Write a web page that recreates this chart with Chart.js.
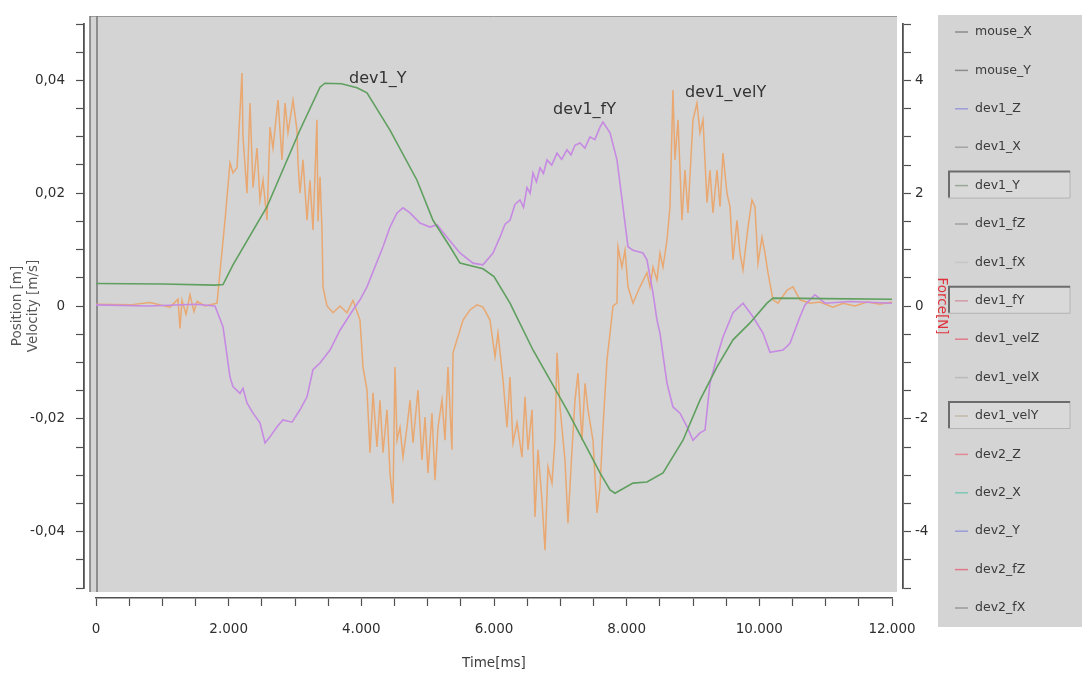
<!DOCTYPE html>
<html>
<head>
<meta charset="utf-8">
<title>dev1 recording</title>
<script src="https://cdn.jsdelivr.net/npm/chart.js@4.4.1/dist/chart.umd.min.js"></script>
<style>
  html, body { margin: 0; padding: 0; background: #fff; }
  canvas { display: block; }
</style>
</head>
<body>
<canvas id="recordingChart" width="1082" height="673"></canvas>
<script>
// Series names in legend order; only three of them carry data
const seriesNames = ['mouse_X', 'mouse_Y', 'dev1_Z', 'dev1_X', 'dev1_Y', 'dev1_fZ', 'dev1_fX', 'dev1_fY',
    'dev1_velZ', 'dev1_velX', 'dev1_velY', 'dev2_Z', 'dev2_X', 'dev2_Y', 'dev2_fZ', 'dev2_fX'];

// Axis ticks and labels
const timeTicks = [0, 2000, 4000, 6000, 8000, 10000, 12000];
const timeTickLabels = ['0', '2.000', '4.000', '6.000', '8.000', '10.000', '12.000'];
const posTicks = [-0.04, -0.02, 0, 0.02, 0.04];
const posTickLabels = ['-0,04', '-0,02', '0', '0,02', '0,04'];
const forceTicks = [-4, -2, 0, 2, 4];
const forceTickLabels = ['-4', '-2', '0', '2', '4'];

// dev1_Y position [m]
const posTime = [0, 1000, 1800, 1915, 2065, 2578, 3075, 3377, 3450, 3700,
    3935, 4085, 4432, 4839, 5080, 5337, 5487, 5834, 6000, 6241,
    6588, 7100, 7598, 7749, 7824, 8095, 8306, 8548, 8849, 9105,
    9362, 9603, 9859, 10115, 10206, 11000, 12000];
const dev1Y = [0.0040, 0.0039, 0.0037, 0.0038, 0.0073, 0.0176, 0.0312, 0.0388, 0.0395, 0.0394,
    0.0387, 0.0378, 0.0312, 0.0223, 0.0152, 0.0105, 0.0076, 0.0066, 0.0052, 0.0005,
    -0.0078, -0.0184, -0.0296, -0.0326, -0.0332, -0.0314, -0.0312, -0.0296, -0.0238, -0.0167,
    -0.0108, -0.0060, -0.0030, 0.0005, 0.0014, 0.0013, 0.0012];

// dev1_fY force [N]
const forceTime = [0, 800, 1500, 1794, 1915, 2020, 2065, 2171, 2216, 2276,
    2367, 2472, 2548, 2623, 2729, 2819, 2955, 3075, 3181, 3271,
    3377, 3528, 3678, 3874, 3980, 4085, 4327, 4432, 4538, 4628,
    4734, 4884, 5035, 5141, 5291, 5487, 5683, 5834, 5985, 6090,
    6166, 6241, 6316, 6392, 6445, 6497, 6545, 6588, 6640, 6693,
    6745, 6799, 6870, 6950, 7020, 7100, 7160, 7221, 7296, 7370,
    7447, 7520, 7598, 7643, 7749, 7854, 7944, 8020, 8095, 8246,
    8306, 8397, 8457, 8502, 8608, 8698, 8804, 8909, 9000, 9105,
    9181, 9256, 9362, 9452, 9603, 9754, 9904, 10055, 10161, 10357,
    10462, 10613, 10688, 10839, 10990, 11367, 12000];
const dev1fY = [0.02, 0.0, 0.03, 0.0, -0.37, -1.26, -1.43, -1.55, -1.46, -1.72,
    -1.90, -2.07, -2.43, -2.32, -2.14, -2.02, -2.06, -1.84, -1.61, -1.13,
    -1.01, -0.78, -0.43, -0.07, 0.11, 0.34, 1.05, 1.40, 1.65, 1.74,
    1.65, 1.47, 1.40, 1.44, 1.22, 0.94, 0.76, 0.73, 0.94, 1.22,
    1.45, 1.52, 1.80, 1.88, 1.75, 2.10, 2.00, 2.36, 2.20, 2.45,
    2.35, 2.59, 2.50, 2.71, 2.60, 2.77, 2.68, 2.85, 2.89, 2.80,
    3.00, 2.95, 3.17, 3.26, 3.07, 2.59, 1.76, 1.05, 0.99, 0.94,
    0.82, 0.23, -0.25, -0.48, -1.37, -1.79, -1.90, -2.14, -2.38, -2.25,
    -2.20, -1.37, -0.90, -0.55, -0.12, 0.05, -0.19, -0.48, -0.82, -0.78,
    -0.66, -0.19, 0.02, 0.20, 0.05, 0.08, 0.05];

// dev1_velY velocity [m/s]
const velTime = [0, 513, 814, 1116, 1236, 1266, 1296, 1357, 1417, 1477,
    1523, 1643, 1824, 1945, 2020, 2065, 2126, 2201, 2216, 2276,
    2322, 2367, 2427, 2472, 2518, 2578, 2623, 2668, 2744, 2804,
    2849, 2894, 2970, 3030, 3045, 3075, 3121, 3181, 3226, 3271,
    3331, 3347, 3377, 3407, 3422, 3482, 3573, 3678, 3784, 3874,
    3980, 4025, 4085, 4131, 4176, 4236, 4281, 4327, 4387, 4432,
    4477, 4507, 4538, 4583, 4628, 4688, 4734, 4779, 4854, 4914,
    4960, 5005, 5065, 5110, 5156, 5216, 5261, 5306, 5366, 5382,
    5442, 5533, 5638, 5744, 5834, 5940, 6015, 6060, 6136, 6196,
    6241, 6286, 6347, 6422, 6467, 6512, 6573, 6618, 6663, 6723,
    6769, 6814, 6874, 6919, 6950, 6995, 7070, 7115, 7176, 7221,
    7266, 7326, 7372, 7417, 7492, 7553, 7598, 7643, 7703, 7749,
    7794, 7854, 7869, 7929, 7975, 8020, 8095, 8201, 8306, 8352,
    8397, 8457, 8502, 8548, 8608, 8653, 8698, 8728, 8774, 8834,
    8879, 8924, 9000, 9060, 9105, 9151, 9211, 9256, 9301, 9362,
    9407, 9452, 9512, 9558, 9603, 9663, 9708, 9754, 9829, 9889,
    9934, 9980, 10040, 10085, 10130, 10206, 10281, 10417, 10507, 10613,
    10764, 10914, 11110, 11261, 11442, 11623, 11819, 12000];
const dev1VelY = [0.0003, 0.0002, 0.0006, -0.0002, 0.0012, -0.0040, 0.0010, -0.0015, 0.0020, -0.0010,
    0.0008, 0.0000, 0.0005, 0.0152, 0.0254, 0.0236, 0.0245, 0.0413, 0.0300, 0.0200,
    0.0360, 0.0210, 0.0280, 0.0188, 0.0223, 0.0152, 0.0317, 0.0280, 0.0365, 0.0259,
    0.0360, 0.0307, 0.0365, 0.0312, 0.0254, 0.0200, 0.0259, 0.0152, 0.0223, 0.0135,
    0.0330, 0.0150, 0.0229, 0.0135, 0.0034, 0.0000, -0.0012, 0.0000, -0.0012, 0.0010,
    -0.0025, -0.0108, -0.0149, -0.0260, -0.0154, -0.0250, -0.0167, -0.0260, -0.0184, -0.0296,
    -0.0350, -0.0108, -0.0238, -0.0215, -0.0268, -0.0215, -0.0167, -0.0243, -0.0149, -0.0273,
    -0.0197, -0.0296, -0.0190, -0.0309, -0.0215, -0.0167, -0.0238, -0.0108, -0.0255, -0.0083,
    -0.0060, -0.0025, -0.0007, 0.0002, -0.0002, -0.0025, -0.0090, -0.0048, -0.0131, -0.0215,
    -0.0126, -0.0243, -0.0207, -0.0268, -0.0161, -0.0255, -0.0184, -0.0374, -0.0255, -0.0344,
    -0.0433, -0.0285, -0.0314, -0.0238, -0.0083, -0.0179, -0.0273, -0.0385, -0.0255, -0.0167,
    -0.0119, -0.0238, -0.0137, -0.0184, -0.0238, -0.0367, -0.0321, -0.0215, -0.0096, -0.0048,
    0.0000, 0.0005, 0.0105, 0.0069, 0.0099, 0.0034, 0.0005, 0.0034, 0.0059, 0.0034,
    0.0069, 0.0046, 0.0094, 0.0069, 0.0117, 0.0176, 0.0383, 0.0259, 0.0330, 0.0152,
    0.0241, 0.0165, 0.0330, 0.0360, 0.0307, 0.0330, 0.0183, 0.0241, 0.0165, 0.0241,
    0.0176, 0.0271, 0.0200, 0.0176, 0.0082, 0.0152, 0.0094, 0.0064, 0.0140, 0.0188,
    0.0176, 0.0076, 0.0122, 0.0094, 0.0059, 0.0011, 0.0005, 0.0028, 0.0034, 0.0011,
    0.0005, 0.0007, -0.0002, 0.0005, 0.0000, 0.0007, 0.0003, 0.0007];

// Where the curve names sit (time, value on the left axis)
const curveLabels = ['dev1_Y', 'dev1_fY', 'dev1_velY'];
const curveLabelTime = [3814, 6889, 8879];
const curveLabelValue = [0.0403, 0.0347, 0.0378];

const plotGrey = '#d4d4d4';
const axisGrey = '#505050';
const fontFamily = "'DejaVu Sans', sans-serif";
const legendDashColours = ['#8c8c8c', '#8c8c8c', '#9d9bd8', '#a4a4a4', '#9aa89a', '#a0a0a0', '#c6c6c6', '#d49aa8',
    '#e07a8a', '#bababa', '#c2b9a8', '#e08a96', '#7cc8b4', '#9a9ad8', '#e0788a', '#9a9a9a'];

function toPoints(times, values) {
    const n = Math.min(times.length, values.length);
    const pts = [];
    for (let i = 0; i < n; i++) {
        pts.push({x: times[i], y: values[i]});
    }
    return pts;
}

// major ticks plus the unlabelled minor ticks between them (one step past the ends for the y axes)
function tickList(major, step, extra) {
    const ticks = [];
    const lo = Math.round(major[0] / step) - extra;
    const hi = Math.round(major[major.length - 1] / step) + extra;
    for (let k = lo; k <= hi; k++) {
        ticks.push({value: k * step});
    }
    return ticks;
}

function labelFor(value, major, labels) {
    const idx = major.findIndex(m => Math.abs(m - value) < 1e-9);
    return idx >= 0 ? labels[idx] : '';
}

const seriesData = {
    dev1_Y: {points: toPoints(posTime, dev1Y), axis: 'y', colour: '#5f9f5f', width: 1.6},
    dev1_fY: {points: toPoints(forceTime, dev1fY), axis: 'yForce', colour: '#c68ae2', width: 1.6},
    dev1_velY: {points: toPoints(velTime, dev1VelY), axis: 'y', colour: 'rgba(234,164,104,0.92)', width: 1.5},
};

const datasets = seriesNames.map((name) => {
    const s = seriesData[name];
    return {
        label: name,
        data: s ? s.points : [],
        yAxisID: s ? s.axis : 'y',
        borderColor: s ? s.colour : '#999',
        borderWidth: s ? s.width : 1,
        pointRadius: 0,
        tension: 0,
        fill: false,
    };
});

// Axes in the original are set slightly apart from the plot area
const axisGap = {
    id: 'axisGap',
    afterLayout(chart) {
        const {x, y, yForce} = chart.scales;
        x.top += 10;
        x.bottom += 10;
        y.left -= 12;
        y.right -= 12;
        yForce.left += 11;
        yForce.right += 11;
    },
};

const frameAndLegend = {
    id: 'frameAndLegend',
    beforeDraw(chart) {
        const {ctx, chartArea: a, width} = chart;
        ctx.save();
        ctx.fillStyle = '#fff';
        ctx.fillRect(0, 0, chart.width, chart.height);

        // plot background
        ctx.fillStyle = plotGrey;
        ctx.fillRect(a.left - 6, a.top - 8, a.right - a.left + 11, a.bottom - a.top + 12);
        ctx.strokeStyle = '#9a9a9a';
        ctx.lineWidth = 1;
        ctx.beginPath();
        ctx.moveTo(a.left - 6, a.top - 7.5);
        ctx.lineTo(a.right + 5, a.top - 7.5);
        ctx.stroke();
        ctx.strokeStyle = '#777';
        ctx.lineWidth = 1.5;
        [a.left - 6, a.left + 1].forEach((lx) => {
            ctx.beginPath();
            ctx.moveTo(lx, a.top - 8);
            ctx.lineTo(lx, a.bottom + 4);
            ctx.stroke();
        });

        // legend panel
        const px = width - 144;
        ctx.fillStyle = plotGrey;
        ctx.fillRect(px, 15, 144, 612);
        ctx.font = `12.5px ${fontFamily}`;
        ctx.textBaseline = 'middle';
        ctx.textAlign = 'left';
        chart.data.datasets.forEach((ds, i) => {
            const cy = 32 + i * 38.4;
            if (ds.data.length) {
                ctx.fillStyle = '#d9d9d9';
                ctx.fillRect(px + 10, cy - 15, 122, 27);
                ctx.strokeStyle = '#b4b4b4';
                ctx.lineWidth = 1;
                ctx.beginPath();
                ctx.moveTo(px + 132, cy - 15);
                ctx.lineTo(px + 132, cy + 12.5);
                ctx.lineTo(px + 10, cy + 12.5);
                ctx.stroke();
                ctx.strokeStyle = '#6c6c6c';
                ctx.lineWidth = 2;
                ctx.beginPath();
                ctx.moveTo(px + 11, cy + 12);
                ctx.lineTo(px + 11, cy - 14);
                ctx.lineTo(px + 132, cy - 14);
                ctx.stroke();
            }
            ctx.strokeStyle = legendDashColours[i];
            ctx.lineWidth = 1.5;
            ctx.beginPath();
            ctx.moveTo(px + 17, cy);
            ctx.lineTo(px + 30, cy);
            ctx.stroke();
            ctx.fillStyle = '#3a3a3a';
            ctx.fillText(ds.label, px + 37, cy);
        });
        ctx.restore();
    },
    afterDatasetsDraw(chart) {
        const {ctx, scales} = chart;
        ctx.save();
        ctx.font = `16px ${fontFamily}`;
        ctx.fillStyle = '#333';
        ctx.textAlign = 'left';
        ctx.textBaseline = 'middle';
        curveLabels.forEach((text, i) => {
            ctx.fillText(text, scales.x.getPixelForValue(curveLabelTime[i]), scales.y.getPixelForValue(curveLabelValue[i]));
        });
        ctx.restore();
    },
};

const tickFont = {family: fontFamily, size: 13.5};
const titleFont = {family: fontFamily, size: 13.5, lineHeight: 1.15};

const ctx = document.querySelector('#recordingChart').getContext('2d');
new Chart(ctx, {
    type: 'line',
    data: {datasets},
    plugins: [axisGap, frameAndLegend],
    options: {
        responsive: false,
        animation: false,
        normalized: true,
        layout: {padding: {left: 0, right: 144, top: 24, bottom: 0}},
        plugins: {
            legend: {display: false},
            tooltip: {enabled: false},
        },
        scales: {
            x: {
                type: 'linear',
                position: 'bottom',
                min: 0,
                max: 12000,
                afterBuildTicks: (axis) => { axis.ticks = tickList(timeTicks, 500, 0); },
                afterFit: (axis) => { axis.height = 85; },
                grid: {drawOnChartArea: false, drawTicks: true, tickLength: 8, color: axisGrey, tickWidth: 1.2},
                border: {display: true, color: axisGrey, width: 1.6},
                ticks: {
                    autoSkip: false,
                    maxRotation: 0,
                    padding: 15,
                    color: '#2e2e2e',
                    font: tickFont,
                    callback: (v) => labelFor(v, timeTicks, timeTickLabels),
                },
                title: {display: true, text: 'Time[ms]', color: '#3c3c3c', font: titleFont, padding: {top: 0, bottom: 12}},
            },
            y: {
                type: 'linear',
                position: 'left',
                min: -0.05,
                max: 0.05,
                afterBuildTicks: (axis) => { axis.ticks = tickList(posTicks, 0.005, 2); },
                afterFit: (axis) => { axis.width = 96; },
                grid: {drawOnChartArea: false, drawTicks: true, tickLength: 8, color: axisGrey, tickWidth: 1.2},
                border: {display: true, color: axisGrey, width: 1.8},
                ticks: {
                    autoSkip: false,
                    padding: 11,
                    color: '#2e2e2e',
                    font: tickFont,
                    callback: (v) => labelFor(v, posTicks, posTickLabels),
                },
                title: {display: true, text: ['Position [m]', 'Velocity [m/s]'], color: '#555', font: titleFont, padding: {top: 22, bottom: 0}},
            },
            yForce: {
                type: 'linear',
                position: 'right',
                min: -5,
                max: 5,
                afterBuildTicks: (axis) => { axis.ticks = tickList(forceTicks, 0.5, 2); },
                afterFit: (axis) => { axis.width = 46; },
                grid: {drawOnChartArea: false, drawTicks: true, tickLength: 8, color: axisGrey, tickWidth: 1.2},
                border: {display: true, color: axisGrey, width: 1.8},
                ticks: {
                    autoSkip: false,
                    padding: 4,
                    color: '#2e2e2e',
                    font: tickFont,
                    callback: (v) => labelFor(v, forceTicks, forceTickLabels),
                },
                title: {display: true, text: 'Force[N]', color: '#e0323c', font: titleFont, padding: {top: 0, bottom: 0}},
            },
        },
    },
});
</script>
</body>
</html>
